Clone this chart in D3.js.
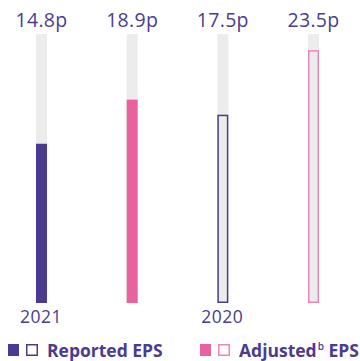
<!DOCTYPE html>
<html>
<head>
<meta charset="utf-8">
<script src="https://cdn.jsdelivr.net/npm/d3@7"></script>
<style>
  body { margin: 0; background: #fff; }
  text { font-family: "Open Sans", sans-serif; }
</style>
</head>
<body>
<div id="chart"></div>
<script>
// data
const bars = ["r2021", "a2021", "r2020", "a2020"];
const values = [14.8, 18.9, 17.5, 23.5];
const kinds = ["reported", "adjusted", "reported", "adjusted"];
const years = ["2021", "", "2020", ""];
const filled = [true, true, false, false];
const legendLabels = ["Reported", "Adjusted"];
const maxValue = 25;

const purple = "#4b3b90";
const pink = "#e9619f";
const pinkLine = "#ea86b5";
const track = "#ececec";

const svgWidth = 360;
const svgHeight = 361;

const svg = d3.select("#chart")
  .append("svg")
  .attr("width", svgWidth)
  .attr("height", svgHeight);

// scales
const xScale = d3.scalePoint()
  .domain(bars)
  .range([41.5, 313.5]);

const yScale = d3.scaleLinear()
  .domain([0, maxValue])
  .range([303, 34]);

const barW = 11;
const colorOf = k => k === "reported" ? purple : pink;

const groups = svg.selectAll("g.bar")
  .data(bars)
  .enter()
  .append("g")
  .attr("class", "bar");

// grey track behind every bar
groups.append("rect")
  .attr("x", d => xScale(d) - barW / 2)
  .attr("y", yScale(maxValue))
  .attr("width", barW)
  .attr("height", yScale(0) - yScale(maxValue))
  .attr("fill", track);

// value bars, solid for 2021 and outlined for 2020
groups.append("rect")
  .attr("x", (d, i) => xScale(d) - barW / 2 + (filled[i] ? 0 : 0.75))
  .attr("y", (d, i) => yScale(values[i]) + (filled[i] ? 0 : 0.75))
  .attr("width", (d, i) => filled[i] ? barW : barW - 1.5)
  .attr("height", (d, i) => yScale(0) - yScale(values[i]) - (filled[i] ? 0 : 1.5))
  .attr("fill", (d, i) => filled[i] ? colorOf(kinds[i]) : track)
  .attr("stroke", (d, i) => filled[i] ? "none" : (kinds[i] === "reported" ? purple : pinkLine))
  .attr("stroke-width", 1.5);

// value labels
groups.append("text")
  .attr("x", d => xScale(d))
  .attr("y", 27)
  .attr("text-anchor", "middle")
  .attr("font-size", 19.5)
  .attr("letter-spacing", 0.3)
  .attr("fill", purple)
  .text((d, i) => values[i] + "p");

// year labels
groups.append("text")
  .attr("x", d => xScale(d) - 0.5)
  .attr("y", 323)
  .attr("text-anchor", "middle")
  .attr("font-size", 17.5)
  .attr("letter-spacing", 0.5)
  .attr("fill", purple)
  .text((d, i) => years[i]);

// legend
const legend = svg.append("g");
const legendX = [8, 200];
const legendColors = [purple, pink];
const legendLines = [purple, pinkLine];

legendLabels.forEach((lab, i) => {
  const g = legend.append("g").attr("transform", `translate(${legendX[i]}, 344)`);
  g.append("rect")
    .attr("width", 11).attr("height", 12)
    .attr("fill", legendColors[i]);
  g.append("rect")
    .attr("x", 18.75).attr("y", 0.75)
    .attr("width", 10.5).attr("height", 10.5)
    .attr("fill", "#fff")
    .attr("stroke", legendLines[i])
    .attr("stroke-width", 1.5);
  const t = g.append("text")
    .attr("x", 39)
    .attr("y", 12.5)
    .attr("font-size", 17.5)
    .attr("font-weight", 700)
    .attr("fill", purple);
  t.append("tspan").text(lab);
  if (i === 1) {
    t.append("tspan").attr("font-size", 10).attr("font-weight", 600).attr("dy", -6.5).attr("dx", 1).text("b");
    t.append("tspan").attr("dy", 6.5).text(" EPS");
  } else {
    t.append("tspan").text(" EPS");
  }
});
</script>
</body>
</html>
